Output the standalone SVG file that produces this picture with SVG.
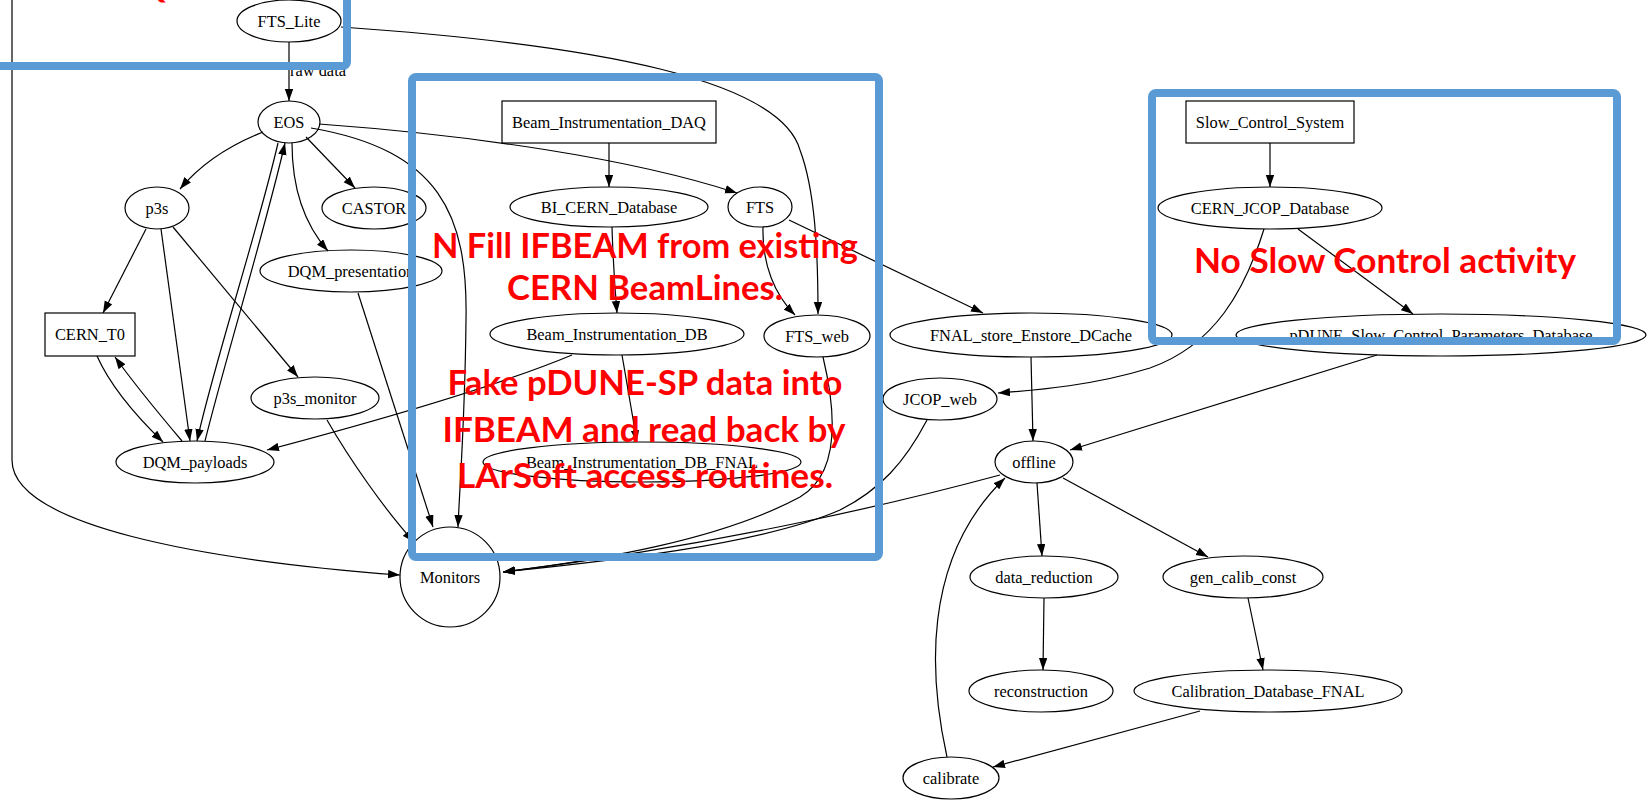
<svg xmlns="http://www.w3.org/2000/svg" width="1648" height="800" viewBox="0 0 1648 800">
<defs>
<marker id="ah" markerWidth="12" markerHeight="9" refX="12" refY="4.2" orient="auto" markerUnits="userSpaceOnUse"><path d="M0,0 L12,4.2 L0,8.4 z" fill="#000"/></marker>
<style>
.n ellipse, .n rect, .n circle { fill:none; stroke:#000; stroke-width:1.2 }
.n text, .lbl { font-family:"Liberation Serif","Times New Roman",serif; font-size:16.4px; text-anchor:middle; fill:#000 }
.lbl { text-anchor:start }
.e path { fill:none; stroke:#000; stroke-width:1.2; marker-end:url(#ah) }
.box { fill:none; stroke:#5B9BD5; stroke-width:8 }
.note { font-family:Lato,"Open Sans","Liberation Sans",sans-serif; font-weight:700; font-size:34px; fill:#FF0000; text-anchor:middle }
</style>
</defs>
<rect width="1648" height="800" fill="#fff"/>
<g id="edges" class="e">
<path d="M289,42 L289,101"/>
<path d="M341,27 C600,45 780,80 800,150 C815,190 818,250 818,314"/>
<path d="M263,132 C230,145 200,165 180,189"/>
<path d="M306,137 L355,188"/>
<path d="M292,143 C292,190 305,225 328,251"/>
<path d="M278,143 C258,230 215,360 197,441"/>
<path d="M205,441 C225,360 265,230 285,143"/>
<path d="M311,128 C440,150 468,215 466,320 C465,420 460,480 458,527"/>
<path d="M319,124 C470,135 630,158 737,193"/>
<path d="M146,229 L103,313"/>
<path d="M161,229 L190,441"/>
<path d="M173,227 L298,377"/>
<path d="M97,356 C110,385 135,415 163,442"/>
<path d="M182,441 C160,415 135,385 115,357"/>
<path d="M572,355 C500,385 380,420 267,450"/>
<path d="M358,293 L433,527"/>
<path d="M327,420 C350,460 385,510 414,542"/>
<path d="M12,-5 L12,460 C12,525 200,560 400,575"/>
<path d="M609,143 L609,187"/>
<path d="M612,227 C613,260 615,290 617,313"/>
<path d="M622,355 L637,442"/>
<path d="M763,227 C762,265 775,295 795,315"/>
<path d="M789,220 L983,313"/>
<path d="M823,357 C838,420 838,475 800,497 C720,540 600,560 503,572"/>
<path d="M927,420 C905,462 880,490 840,510 C760,545 600,562 503,572"/>
<path d="M1000,475 C900,502 720,545 503,572"/>
<path d="M1270,143 L1270,187"/>
<path d="M1298,229 L1413,314"/>
<path d="M1264,229 C1245,290 1215,345 1150,368 C1095,385 1040,390 998,393"/>
<path d="M1031,357 L1033,441"/>
<path d="M1377,355 L1070,450"/>
<path d="M1037,483 L1042,556"/>
<path d="M1063,478 L1208,557"/>
<path d="M1044,598 L1043,670"/>
<path d="M1248,598 L1263,670"/>
<path d="M1200,711 L993,767"/>
<path d="M947,757 C930,680 920,560 1005,478"/>
</g>
<text class="lbl" x="290" y="76">raw data</text>
<g id="FTS_Lite" class="n"><ellipse cx="289" cy="21" rx="52" ry="21"/><text x="289" y="27">FTS_Lite</text></g>
<g id="EOS" class="n"><ellipse cx="289" cy="122" rx="31" ry="21"/><text x="289" y="128">EOS</text></g>
<g id="p3s" class="n"><ellipse cx="157" cy="208" rx="32" ry="21"/><text x="157" y="214">p3s</text></g>
<g id="CASTOR" class="n"><ellipse cx="374" cy="208" rx="52" ry="21"/><text x="374" y="214">CASTOR</text></g>
<g id="DQM_presentation" class="n"><ellipse cx="351" cy="271" rx="91" ry="21"/><text x="351" y="277">DQM_presentation</text></g>
<g id="CERN_T0" class="n"><rect x="45" y="313" width="90" height="43"/><text x="90" y="340">CERN_T0</text></g>
<g id="p3s_monitor" class="n"><ellipse cx="315" cy="398" rx="64" ry="21"/><text x="315" y="404">p3s_monitor</text></g>
<g id="DQM_payloads" class="n"><ellipse cx="195" cy="462" rx="79" ry="21"/><text x="195" y="468">DQM_payloads</text></g>
<g id="Monitors" class="n"><circle cx="450" cy="577" r="50"/><text x="450" y="583">Monitors</text></g>
<g id="Beam_Instrumentation_DAQ" class="n"><rect x="502" y="101" width="214" height="42"/><text x="609" y="128">Beam_Instrumentation_DAQ</text></g>
<g id="BI_CERN_Database" class="n"><ellipse cx="609" cy="207" rx="99" ry="20"/><text x="609" y="213">BI_CERN_Database</text></g>
<g id="FTS" class="n"><ellipse cx="760" cy="207" rx="32" ry="20"/><text x="760" y="213">FTS</text></g>
<g id="Beam_Instrumentation_DB" class="n"><ellipse cx="617" cy="334" rx="127" ry="21"/><text x="617" y="340">Beam_Instrumentation_DB</text></g>
<g id="FTS_web" class="n"><ellipse cx="817" cy="336" rx="53" ry="21"/><text x="817" y="342">FTS_web</text></g>
<g id="Beam_Instrumentation_DB_FNAL" class="n"><ellipse cx="642" cy="462" rx="159" ry="20"/><text x="642" y="468">Beam_Instrumentation_DB_FNAL</text></g>
<g id="FNAL_store_Enstore_DCache" class="n"><ellipse cx="1031" cy="335" rx="141" ry="22"/><text x="1031" y="341">FNAL_store_Enstore_DCache</text></g>
<g id="JCOP_web" class="n"><ellipse cx="940" cy="399" rx="57" ry="21"/><text x="940" y="405">JCOP_web</text></g>
<g id="Slow_Control_System" class="n"><rect x="1186" y="101" width="168" height="42"/><text x="1270" y="128">Slow_Control_System</text></g>
<g id="CERN_JCOP_Database" class="n"><ellipse cx="1270" cy="208" rx="112" ry="21"/><text x="1270" y="214">CERN_JCOP_Database</text></g>
<g id="pDUNE_Slow_Control_Parameters_Database" class="n"><ellipse cx="1441" cy="335" rx="205" ry="21"/><text x="1441" y="341">pDUNE_Slow_Control_Parameters_Database</text></g>
<g id="offline" class="n"><ellipse cx="1034" cy="462" rx="39" ry="21"/><text x="1034" y="468">offline</text></g>
<g id="data_reduction" class="n"><ellipse cx="1044" cy="577" rx="74" ry="21"/><text x="1044" y="583">data_reduction</text></g>
<g id="gen_calib_const" class="n"><ellipse cx="1243" cy="577" rx="80" ry="21"/><text x="1243" y="583">gen_calib_const</text></g>
<g id="reconstruction" class="n"><ellipse cx="1041" cy="691" rx="72" ry="21"/><text x="1041" y="697">reconstruction</text></g>
<g id="Calibration_Database_FNAL" class="n"><ellipse cx="1268" cy="691" rx="134" ry="21"/><text x="1268" y="697">Calibration_Database_FNAL</text></g>
<g id="calibrate" class="n"><ellipse cx="951" cy="778" rx="48" ry="21"/><text x="951" y="784">calibrate</text></g>
<g id="highlights">
<rect class="box" x="-20" y="-20" width="367" height="86" rx="4"/>
<rect class="box" x="412" y="77" width="467" height="480" rx="4"/>
<rect class="box" x="1152" y="93" width="465" height="248" rx="4"/>
</g>
<g id="notes">
<text class="note" x="152" y="-2">Q</text>
<text class="note" x="645" y="258" textLength="426" lengthAdjust="spacingAndGlyphs">N Fill IFBEAM from existing</text>
<text class="note" x="645" y="300" textLength="276" lengthAdjust="spacingAndGlyphs">CERN BeamLines.</text>
<text class="note" x="645" y="395" textLength="395" lengthAdjust="spacingAndGlyphs">Fake pDUNE-SP data into</text>
<text class="note" x="644" y="442" textLength="403" lengthAdjust="spacingAndGlyphs">IFBEAM and read back by</text>
<text class="note" x="645" y="488" textLength="376" lengthAdjust="spacingAndGlyphs">LArSoft access routines.</text>
<text class="note" x="1385" y="273" textLength="382" lengthAdjust="spacingAndGlyphs">No Slow Control activity</text>
</g>
</svg>
